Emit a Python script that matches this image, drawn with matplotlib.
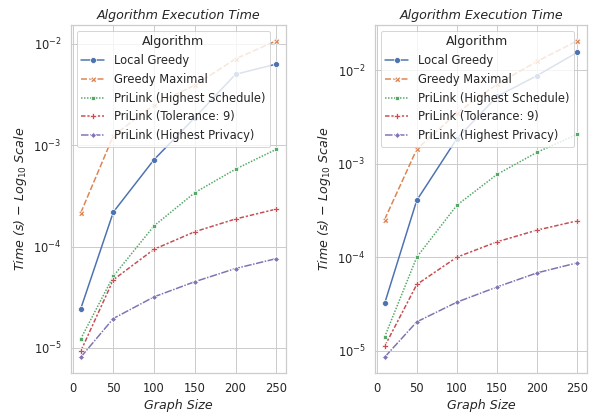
import matplotlib
matplotlib.use("Agg")
import matplotlib.pyplot as plt
import seaborn as sns
import pandas as pd

graph_sizes = [10, 50, 100, 150, 200, 250]
algorithms = ["Local Greedy", "Greedy Maximal", "PriLink (Highest Schedule)",
              "PriLink (Tolerance: 9)", "PriLink (Highest Privacy)"]

left_local_greedy = [2.44e-5, 2.19e-4, 7.2e-4, 1.87e-3, 5.0e-3, 6.3e-3]
left_greedy_maximal = [2.15e-4, 1.24e-3, 2.5e-3, 3.9e-3, 7.1e-3, 1.07e-2]
left_highest_schedule = [1.23e-5, 5.1e-5, 1.6e-4, 3.4e-4, 5.8e-4, 9.1e-4]
left_tolerance = [9.3e-6, 4.7e-5, 9.4e-5, 1.40e-4, 1.87e-4, 2.34e-4]
left_highest_privacy = [8.1e-6, 1.95e-5, 3.19e-5, 4.5e-5, 6.07e-5, 7.6e-5]

right_local_greedy = [3.2e-5, 4.06e-4, 1.86e-3, 5.25e-3, 8.8e-3, 1.56e-2]
right_greedy_maximal = [2.53e-4, 1.43e-3, 3.5e-3, 7.1e-3, 1.25e-2, 2.07e-2]
right_highest_schedule = [1.40e-5, 1.0e-4, 3.6e-4, 7.7e-4, 1.33e-3, 2.07e-3]
right_tolerance = [1.11e-5, 5.1e-5, 1.0e-4, 1.46e-4, 1.95e-4, 2.45e-4]
right_highest_privacy = [8.5e-6, 2.03e-5, 3.3e-5, 4.8e-5, 6.8e-5, 8.7e-5]

title = "Algorithm Execution Time"
xlabel = "Graph Size"
ylabel = "Time (s) $-$ Log$_{10}$ Scale"
xticks = [0, 50, 100, 150, 200, 250]


def make_df(series):
    rows = []
    for name, vals in zip(algorithms, series):
        for x, y in zip(graph_sizes, vals):
            rows.append({"Graph Size": x, "Time": y, "Algorithm": name})
    return pd.DataFrame(rows)


left_df = make_df([left_local_greedy, left_greedy_maximal, left_highest_schedule,
                   left_tolerance, left_highest_privacy])
right_df = make_df([right_local_greedy, right_greedy_maximal, right_highest_schedule,
                    right_tolerance, right_highest_privacy])

sns.set_theme(style="whitegrid", font_scale=1.05)
W, H = 598, 415
fig = plt.figure(figsize=(W / 72, H / 72), dpi=72)
ax1 = fig.add_axes([71 / W, 1 - 373 / H, 215 / W, 348 / H])
ax2 = fig.add_axes([375 / W, 1 - 373 / H, 212 / W, 348 / H])

for ax, df in zip([ax1, ax2], [left_df, right_df]):
    sns.lineplot(data=df, x="Graph Size", y="Time", hue="Algorithm",
                 style="Algorithm", markers=True, dashes=True, ax=ax)
    ax.set_yscale("log")
    ax.set_title(title, fontstyle="italic")
    ax.set_xlabel(xlabel, fontstyle="italic")
    ax.set_ylabel(ylabel, fontstyle="italic")
    ax.set_xticks(xticks)
    ax.legend(title="Algorithm", loc="upper left")

fig.savefig("out.png", dpi=72)
